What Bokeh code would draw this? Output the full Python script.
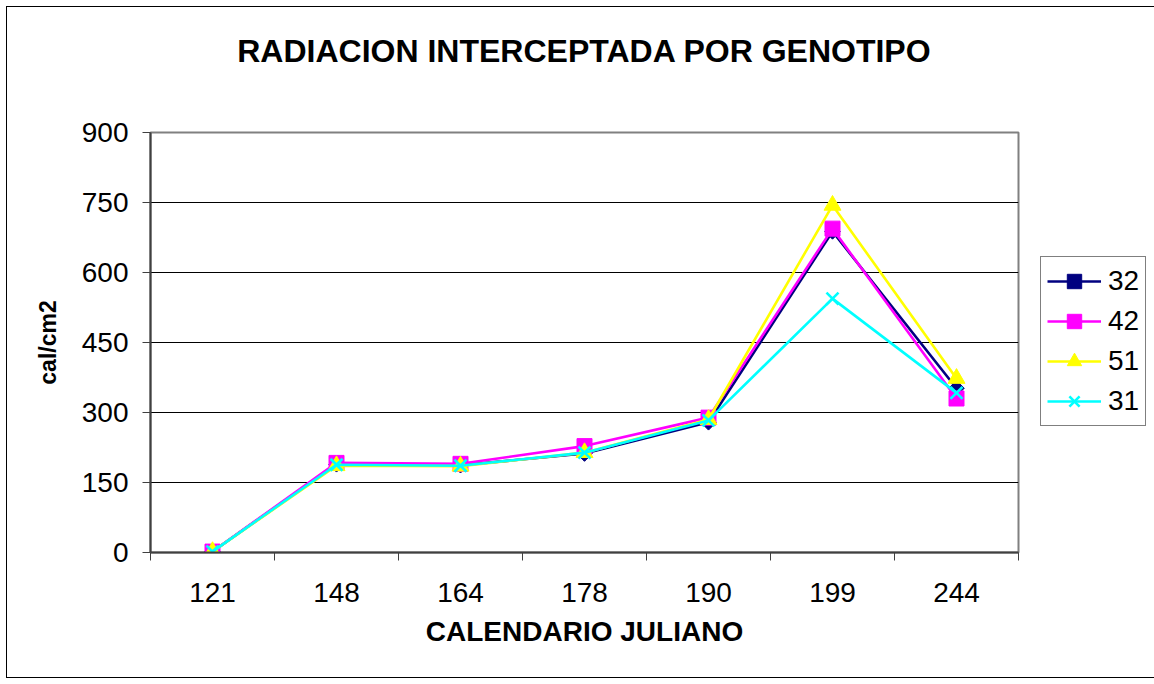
import math
from bokeh.plotting import figure
from bokeh.models import Range1d, FixedTicker, Legend, LegendItem, LinearAxis
from bokeh.embed import file_html
from bokeh.resources import INLINE

categories = ["121", "148", "164", "178", "190", "199", "244"]
series_names = ["32", "42", "51", "31"]
s32 = [2, 189, 187, 212, 279, 688, 352]
s42 = [2, 192, 190, 228, 289, 694, 330]
s51 = [2, 186, 185, 214, 285, 744, 373]
s31 = [2, 188, 186, 214, 283, 544, 342]
y_ticks = [0, 150, 300, 450, 600, 750, 900]
title_text = "RADIACION INTERCEPTADA POR GENOTIPO"

FONT = "Liberation Sans"
xs = [i + 0.5 for i in range(len(categories))]

p = figure(width=1137, height=670, output_backend="svg", toolbar_location=None,
           x_range=Range1d(0, len(categories)), y_range=Range1d(0, 900),
           frame_width=868, frame_height=420,
           min_border_left=143, min_border_right=126, min_border_top=125, min_border_bottom=125)
p.styles = {"border": "1px solid black", "margin": "6px"}
p.background_fill_color = "white"
p.outline_line_color = "#808080"
p.outline_line_width = 2

xa = p.below[0]
ya = p.left[0]

# title
p.title.text = title_text
p.title.text_font = FONT
p.title.text_font_size = "32px"
p.title.text_font_style = "bold"
p.title.align = "center"
p.title.text_color = "black"
p.title.standoff = 0

# invisible axis above the frame, used only as a gap between title and plot area
gap_axis = LinearAxis(ticker=FixedTicker(ticks=[0]), axis_line_color=None,
                      major_tick_line_color=None, minor_tick_line_color=None,
                      major_tick_in=0, major_tick_out=64, minor_tick_in=0, minor_tick_out=0,
                      major_label_standoff=0, axis_label_standoff=0,
                      major_label_overrides={0: ""}, major_label_text_font_size="1px",
                      major_label_text_color=None)
p.add_layout(gap_axis, "above")

# x axis
xa.ticker = FixedTicker(ticks=xs, minor_ticks=list(range(len(categories) + 1)))
xa.major_label_overrides = {x: c for x, c in zip(xs, categories)}
xa.major_tick_line_color = None
xa.minor_tick_in = 0
xa.minor_tick_out = 8
xa.minor_tick_line_color = "#404040"
xa.axis_line_color = "#404040"
xa.axis_line_width = 2
xa.major_label_text_font = FONT
xa.major_label_text_font_size = "28px"
xa.major_label_text_color = "black"
xa.major_label_standoff = 22
xa.axis_label = "CALENDARIO JULIANO"
xa.axis_label_text_font = FONT
xa.axis_label_text_font_size = "28px"
xa.axis_label_text_font_style = "bold"
xa.axis_label_text_color = "black"
xa.axis_label_standoff = 11

# y axis
ya.ticker = FixedTicker(ticks=y_ticks)
ya.minor_tick_line_color = None
ya.major_tick_in = 0
ya.major_tick_out = 8
ya.major_tick_line_color = "#404040"
ya.axis_line_color = "#404040"
ya.axis_line_width = 2
ya.major_label_text_font = FONT
ya.major_label_text_font_size = "28px"
ya.major_label_text_color = "black"
ya.major_label_standoff = 14
ya.axis_label = "cal/cm2"
ya.axis_label_text_font = FONT
ya.axis_label_text_font_size = "23px"
ya.axis_label_text_font_style = "bold"
ya.axis_label_text_color = "black"
ya.axis_label_standoff = 18

p.xgrid.visible = False
p.ygrid.ticker = FixedTicker(ticks=y_ticks[1:-1])
p.ygrid.grid_line_color = "black"
p.ygrid.grid_line_width = 1

LW = 2.6
items = []
# 32 navy diamond
l1 = p.line(xs, s32, line_color="#000080", line_width=LW)
m1 = p.scatter(xs, s32, marker="square", angle=math.pi / 4, size=11,
               fill_color="#000080", line_color="#000080")
items.append(LegendItem(label=series_names[0], renderers=[l1, m1]))
# 42 magenta square
l2 = p.line(xs, s42, line_color="#FF00FF", line_width=LW)
m2 = p.scatter(xs, s42, marker="square", size=15, fill_color="#FF00FF", line_color="#FF00FF")
items.append(LegendItem(label=series_names[1], renderers=[l2, m2]))
# 51 yellow triangle
l3 = p.line(xs, s51, line_color="#FFFF00", line_width=LW)
m3 = p.scatter(xs, s51, marker="triangle", size=17, fill_color="#FFFF00", line_color="#FFFF00")
items.append(LegendItem(label=series_names[2], renderers=[l3, m3]))
# 31 cyan x
l4 = p.line(xs, s31, line_color="#00FFFF", line_width=LW)
m4 = p.scatter(xs, s31, marker="x", size=17, line_color="#00FFFF", line_width=LW)
items.append(LegendItem(label=series_names[3], renderers=[l4, m4]))

legend = Legend(items=items, location=(22, 126), orientation="vertical")
legend.border_line_color = "black"
legend.border_line_width = 1
legend.background_fill_color = "white"
legend.background_fill_alpha = 1
legend.label_text_font = FONT
legend.label_text_font_size = "28px"
legend.label_text_color = "black"
legend.glyph_width = 54
legend.glyph_height = 36
legend.label_height = 36
legend.label_standoff = 7
legend.spacing = 4
legend.padding = 6
legend.margin = 0
p.add_layout(legend, "right")

open("out.html", "w").write(file_html(p, INLINE))
